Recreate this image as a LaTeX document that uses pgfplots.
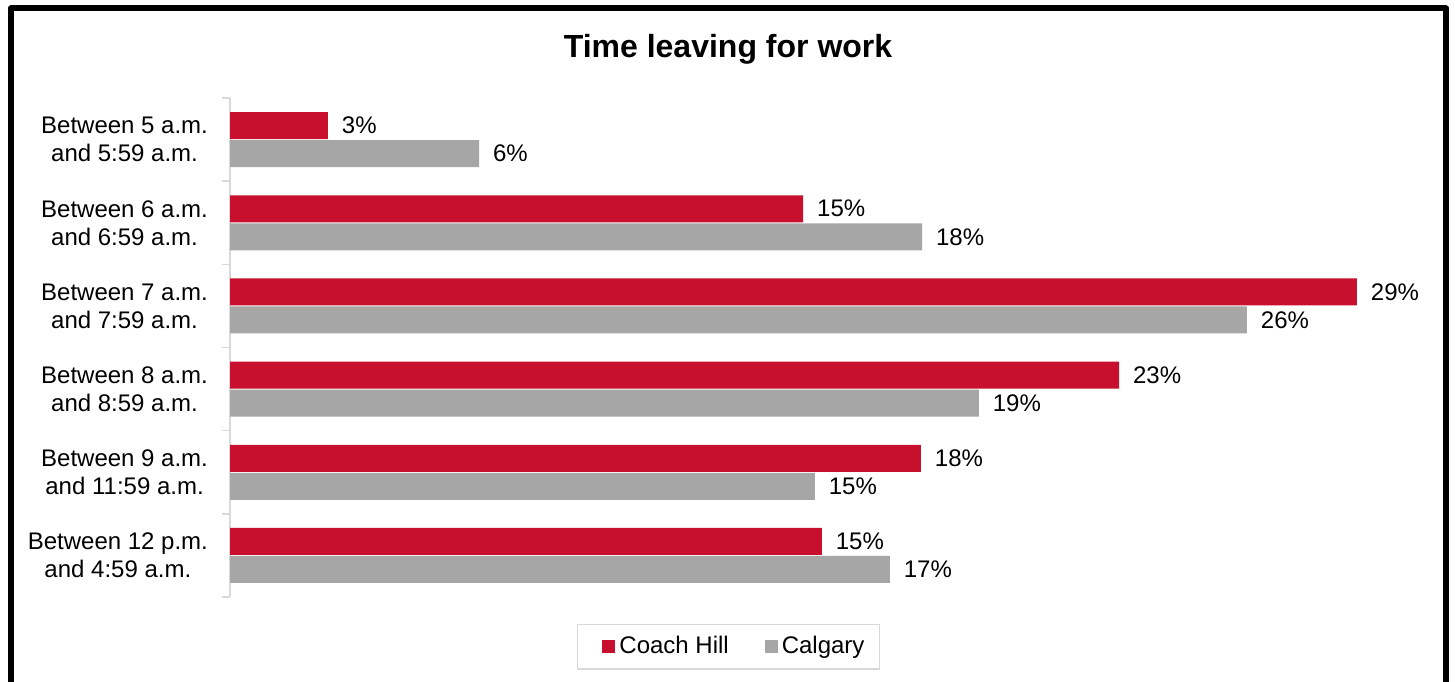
\documentclass[border=0pt]{standalone}
\usepackage{pgfplots}
\pgfplotsset{compat=1.18}
\usepackage{fontspec}
\setmainfont{Liberation Sans}
\definecolor{chred}{HTML}{C8102E}
\definecolor{cgray}{HTML}{A6A6A6}
\definecolor{axgray}{HTML}{D9D9D9}
\begin{document}
\begin{tikzpicture}
\useasboundingbox (0,0) rectangle (727.5pt,340.5pt);
\fill[white] (0,0) rectangle (727.5pt,340.5pt);
\begin{axis}[
 at={(115pt,42pt)}, anchor=south west,
 scale only axis, width=602.3pt, height=249.5pt,
 xmin=0, xmax=31, ymin=-0.5, ymax=5.5,
 xbar, bar width=13.5pt,
 axis x line=none, axis y line*=left,
 y axis line style={draw=axgray, line width=0.8pt, -},
 ytick={0,...,5},
 yticklabels={{Between 12 p.m.\\and 4:59 a.m.},{Between 9 a.m.\\and 11:59 a.m.},{Between 8 a.m.\\and 8:59 a.m.},{Between 7 a.m.\\and 7:59 a.m.},{Between 6 a.m.\\and 6:59 a.m.},{Between 5 a.m.\\and 5:59 a.m.}},
 major tick length=0pt,
 minor ytick={-0.5,0.5,...,5.5},
 minor tick length=4pt, tick align=outside,
 tick style={draw=axgray, line width=0.8pt},
 yticklabel style={align=center, font=\fontsize{12}{14}\selectfont, xshift=-7.5pt},
 nodes near coords, point meta=explicit symbolic,
 nodes near coords style={font=\fontsize{12}{14}\selectfont, anchor=west, xshift=3.5pt},
 legend style={at={(0.4138,-0.0992)}, anchor=center, draw=axgray, line width=0.8pt,
   inner xsep=5.5pt, inner ysep=4pt,
   legend columns=2, font=\fontsize{12}{14}\selectfont,
   /tikz/every even column/.append style={column sep=9pt}},
 legend image code/.code={\path[draw=none, fill=none] (0pt,0pt) -- (7pt,0pt); \fill[#1, draw=none] (7pt,-3.25pt) rectangle (13.5pt,3.25pt);},
]
\addplot[fill=chred, draw=none, bar shift=7pt] coordinates {
 (2.52,5) [3\%]
 (14.75,4) [15\%]
 (29.0,3) [29\%]
 (22.88,2) [23\%]
 (17.78,1) [18\%]
 (15.23,0) [15\%]
};
\addplot[fill=cgray, draw=none, bar shift=-7pt] coordinates {
 (6.41,5) [6\%]
 (17.81,4) [18\%]
 (26.17,3) [26\%]
 (19.27,2) [19\%]
 (15.05,1) [15\%]
 (16.98,0) [17\%]
};
\legend{Coach Hill, Calgary}
\end{axis}
\node[font=\bfseries\fontsize{16}{19}\selectfont, anchor=base] at (364pt,311.5pt) {Time leaving for work};
\draw[line width=3pt, line join=round] (5.5pt,-5pt) -- (5.5pt,336.25pt) -- (723pt,336.25pt) -- (723pt,-5pt);
\end{tikzpicture}
\end{document}
